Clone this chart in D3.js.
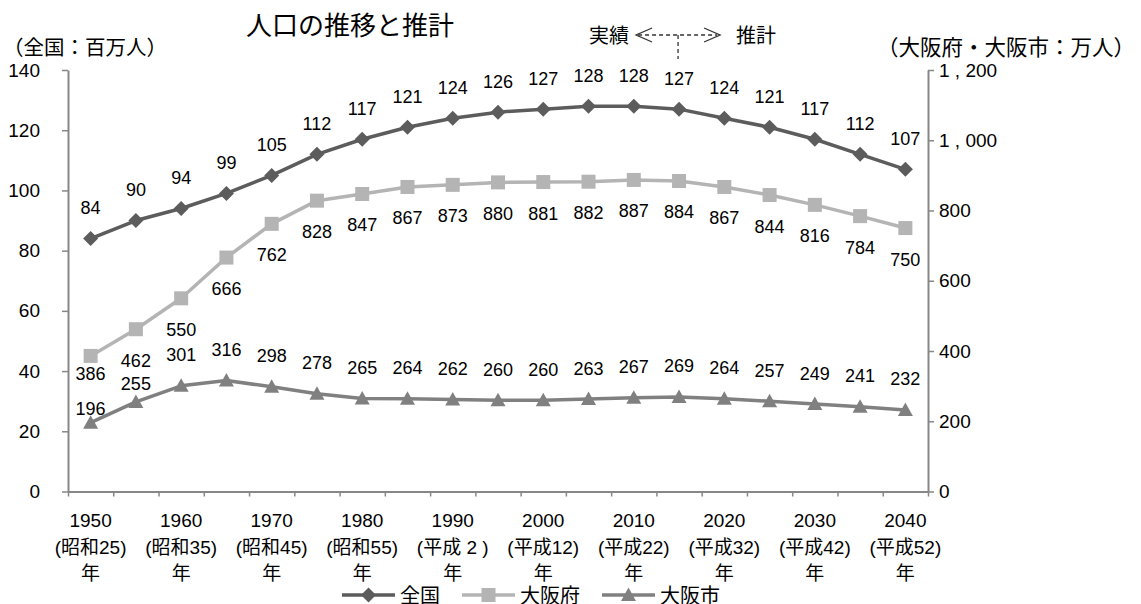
<!DOCTYPE html>
<html>
<head>
<meta charset="utf-8">
<script src="https://cdn.jsdelivr.net/npm/d3@7"></script>
<style>
  body { margin: 0; background: #fff; }
  text { font-family: "Liberation Sans", Arial, "Noto Sans CJK JP", sans-serif; fill: #000; }
  .cjk { font-family: "Noto Sans CJK JP", "Liberation Sans", sans-serif; }
</style>
</head>
<body>
<svg id="chart" width="1141" height="604"></svg>
<script>
// Population: Japan (millions) and Osaka prefecture / Osaka city (10 thousands)
const years = [1950, 1955, 1960, 1965, 1970, 1975, 1980, 1985, 1990, 1995,
               2000, 2005, 2010, 2015, 2020, 2025, 2030, 2035, 2040];
const national   = [84, 90, 94, 99, 105, 112, 117, 121, 124, 126, 127, 128, 128, 127, 124, 121, 117, 112, 107];
const prefecture = [386, 462, 550, 666, 762, 828, 847, 867, 873, 880, 881, 882, 887, 884, 867, 844, 816, 784, 750];
const city       = [196, 255, 301, 316, 298, 278, 265, 264, 262, 260, 260, 263, 267, 269, 264, 257, 249, 241, 232];

const seriesNames = ["全国", "大阪府", "大阪市"];
const leftTicks  = [0, 20, 40, 60, 80, 100, 120, 140];
const rightTicks = [0, 200, 400, 600, 800, 1000, 1200];
const labeledYears = [1950, 1960, 1970, 1980, 1990, 2000, 2010, 2020, 2030, 2040];
const eraLabels = ["(昭和25)", "(昭和35)", "(昭和45)", "(昭和55)", "(平成 2 )",
                   "(平成12)", "(平成22)", "(平成32)", "(平成42)", "(平成52)"];
const firstEstimateYear = 2015;

const svg = d3.select("#chart");
const plot = { left: 68, right: 928, top: 70, bottom: 491.5 };
const axisColor = "#878787";
const colors = { national: "#5c5c5c", prefecture: "#b4b4b4", city: "#808080" };

const x = d3.scaleBand().domain(years).range([plot.left, plot.right]);
const cx = d => x(d) + x.bandwidth() / 2;
const yL = d3.scaleLinear().domain([0, 140]).range([plot.bottom, plot.top]);
const yR = d3.scaleLinear().domain([0, 1200]).range([plot.bottom, plot.top]);

// Left axis
const gL = svg.append("g").attr("transform", `translate(${plot.left},0)`)
  .call(d3.axisLeft(yL).tickValues(leftTicks).tickSize(6).tickSizeOuter(0).tickPadding(22));
// Right axis
const fmtR = d => d3.format(",")(d).replace(",", " , ");
const gR = svg.append("g").attr("transform", `translate(${plot.right},0)`)
  .call(d3.axisRight(yR).tickValues(rightTicks).tickSize(6).tickSizeOuter(0).tickPadding(5).tickFormat(fmtR));
// Bottom axis: ticks on category boundaries
const edge = d3.scaleLinear().domain([0, years.length]).range([plot.left, plot.right]);
const gB = svg.append("g").attr("transform", `translate(0,${plot.bottom})`)
  .call(d3.axisBottom(edge).tickValues(d3.range(years.length + 1)).tickSize(5).tickSizeOuter(0).tickFormat(""));

[gL, gR, gB].forEach(g => {
  g.selectAll("path.domain").attr("stroke", axisColor).attr("stroke-width", 2);
  g.selectAll(".tick line").attr("stroke", axisColor).attr("stroke-width", 1.5);
  g.selectAll(".tick text").attr("font-size", 19).attr("fill", "#000")
    .attr("font-family", "'Liberation Sans', Arial, sans-serif");
});

// Category labels (year / era / 年)
const xl = svg.append("g").attr("font-size", 19).attr("text-anchor", "middle");
labeledYears.forEach((yr, i) => {
  const px = cx(yr);
  xl.append("text").attr("x", px).attr("y", 527).text(yr);
  xl.append("text").attr("x", px).attr("y", 554).text(eraLabels[i]);
  xl.append("text").attr("x", px).attr("y", 580).attr("class", "cjk").text("年");
});

// Series lines and markers
const series = [
  { key: "national", values: national, y: yL, shape: "diamond" },
  { key: "prefecture", values: prefecture, y: yR, shape: "square" },
  { key: "city", values: city, y: yR, shape: "triangle" }
];

function marker(g, shape, color) {
  if (shape === "diamond") {
    g.append("path").attr("d", "M0,-7.5L7.5,0L0,7.5L-7.5,0Z").attr("fill", color);
  } else if (shape === "square") {
    g.append("rect").attr("x", -7).attr("y", -7).attr("width", 14).attr("height", 14).attr("fill", color);
  } else {
    g.append("path").attr("d", "M0,-7.5L7.5,6L-7.5,6Z").attr("fill", color);
  }
}

series.forEach(s => {
  const line = d3.line().x((d, i) => cx(years[i])).y(d => s.y(d));
  svg.append("path").datum(s.values)
    .attr("d", line).attr("fill", "none")
    .attr("stroke", colors[s.key]).attr("stroke-width", 3.5).attr("stroke-linejoin", "round");
  s.values.forEach((v, i) => {
    const g = svg.append("g").attr("transform", `translate(${cx(years[i])},${s.y(v)})`);
    marker(g, s.shape, colors[s.key]);
  });
});

// Value labels
const labelSize = 18;
const off = 31;
const lbl = svg.append("g").attr("font-size", labelSize).attr("text-anchor", "middle");
function label(px, centerY, v) {
  lbl.append("text").attr("x", px).attr("y", centerY).attr("dy", "0.36em").text(v);
}
years.forEach((yr, i) => {
  const px = cx(yr);
  label(px, yL(national[i]) - off, national[i]);
  const pPt = yR(prefecture[i]), cPt = yR(city[i]);
  let pc = pPt + off, cc = cPt - off;
  if (cc - pc < 22.5) {
    cc = Math.min(pc + 23, cPt - 14);
    if (cc - pc < 22.5) pc = cc - 35;
  }
  label(px, pc, prefecture[i]);
  label(px, cc, city[i]);
});

// Title and unit captions
svg.append("text").attr("class", "cjk").attr("x", 350).attr("y", 34.5)
  .attr("text-anchor", "middle").attr("font-size", 26).text("人口の推移と推計");
svg.append("text").attr("class", "cjk").attr("x", 3).attr("y", 54.5)
  .attr("font-size", 20.5).text("（全国：百万人）");
svg.append("text").attr("class", "cjk").attr("x", 1135).attr("y", 54.5)
  .attr("text-anchor", "end").attr("font-size", 21.5).text("（大阪府・大阪市：万人）");

// Actual / estimate divider
const dx = cx(firstEstimateYear) - 1;
const ay = 35;
const ann = svg.append("g");
ann.append("text").attr("class", "cjk").attr("x", dx - 49).attr("y", ay + 7.5)
  .attr("text-anchor", "end").attr("font-size", 20).text("実績");
ann.append("text").attr("class", "cjk").attr("x", dx + 58).attr("y", ay + 7.5)
  .attr("font-size", 20).text("推計");
ann.append("line").attr("x1", dx - 40).attr("x2", dx + 39).attr("y1", ay).attr("y2", ay)
  .attr("stroke", "#333").attr("stroke-width", 1.3).attr("stroke-dasharray", "4,3");
ann.append("path").attr("d", `M${dx - 26},${ay - 7}L${dx - 42},${ay}L${dx - 26},${ay + 7}`)
  .attr("fill", "none").attr("stroke", "#333").attr("stroke-width", 1.3);
ann.append("path").attr("d", `M${dx + 26},${ay - 7}L${dx + 42},${ay}L${dx + 26},${ay + 7}`)
  .attr("fill", "none").attr("stroke", "#333").attr("stroke-width", 1.3);
ann.append("line").attr("x1", dx).attr("x2", dx).attr("y1", ay).attr("y2", ay + 24)
  .attr("stroke", "#333").attr("stroke-width", 1.3).attr("stroke-dasharray", "4,3");

// Legend
const legend = svg.append("g");
let lx = 342;
const ly = 595;
series.forEach((s, i) => {
  legend.append("line").attr("x1", lx).attr("x2", lx + 53).attr("y1", ly).attr("y2", ly)
    .attr("stroke", colors[s.key]).attr("stroke-width", 3.5);
  const g = legend.append("g").attr("transform", `translate(${lx + 26.5},${ly})`);
  marker(g, s.shape, colors[s.key]);
  const t = legend.append("text").attr("class", "cjk").attr("x", lx + 58).attr("y", ly + 7.5)
    .attr("font-size", 20).text(seriesNames[i]);
  lx = lx + 58 + t.node().getComputedTextLength() + 22;
});
</script>
</body>
</html>
